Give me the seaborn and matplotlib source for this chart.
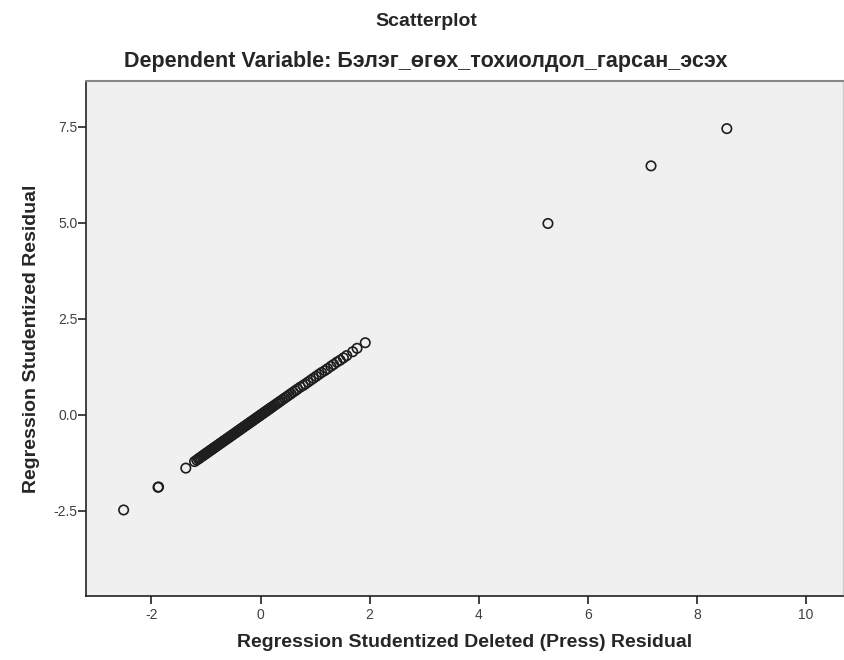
import matplotlib
matplotlib.use("Agg")
import matplotlib.pyplot as plt
import seaborn as sns
import pandas as pd

# Outlying points
outlier_x = [-2.51, -1.88, -1.87, -1.37, 5.27, 7.16, 8.55]
outlier_y = [-2.48, -1.89, -1.88, -1.39, 4.98, 6.48, 7.45]

# Main cluster (deleted residual, studentized residual)
cluster_x = [-1.21, -1.17, -1.14, -1.12, -1.10, -1.07, -1.05, -1.03, -1.01, -0.99,
             -0.97, -0.95, -0.93, -0.91, -0.89, -0.87, -0.85, -0.83, -0.81, -0.79,
             -0.77, -0.75, -0.73, -0.71, -0.69, -0.67, -0.65, -0.63, -0.61, -0.59,
             -0.57, -0.55, -0.53, -0.51, -0.49, -0.47, -0.45, -0.43, -0.41, -0.39,
             -0.37, -0.35, -0.33, -0.31, -0.29, -0.27, -0.25, -0.23, -0.21, -0.19,
             -0.17, -0.15, -0.13, -0.11, -0.09, -0.07, -0.05, -0.03, -0.01,
             0.01, 0.03, 0.05, 0.07, 0.09, 0.11, 0.13, 0.15, 0.17, 0.19, 0.21,
             0.24, 0.27, 0.30, 0.33, 0.36,
             0.40, 0.44, 0.48, 0.52, 0.56, 0.60, 0.64, 0.68,
             0.73, 0.78, 0.82, 0.87, 0.92, 0.97, 1.02, 1.07, 1.12, 1.18, 1.23, 1.29,
             1.34, 1.40, 1.46, 1.52, 1.58,
             1.69, 1.77, 1.92]
cluster_y = [-1.22, -1.18, -1.15, -1.13, -1.11, -1.08, -1.06, -1.04, -1.02, -1.00,
             -0.98, -0.96, -0.94, -0.92, -0.90, -0.88, -0.86, -0.84, -0.82, -0.80,
             -0.78, -0.76, -0.74, -0.72, -0.70, -0.68, -0.66, -0.64, -0.62, -0.60,
             -0.58, -0.56, -0.54, -0.52, -0.50, -0.48, -0.46, -0.44, -0.42, -0.40,
             -0.38, -0.36, -0.34, -0.32, -0.30, -0.28, -0.26, -0.24, -0.22, -0.20,
             -0.18, -0.16, -0.14, -0.12, -0.10, -0.08, -0.06, -0.04, -0.02,
             0.00, 0.02, 0.04, 0.06, 0.08, 0.10, 0.12, 0.14, 0.16, 0.18, 0.20,
             0.23, 0.26, 0.29, 0.32, 0.35,
             0.39, 0.43, 0.47, 0.51, 0.55, 0.59, 0.63, 0.67,
             0.72, 0.76, 0.80, 0.85, 0.90, 0.95, 1.00, 1.05, 1.10, 1.15, 1.20, 1.26,
             1.31, 1.37, 1.42, 1.48, 1.54,
             1.64, 1.73, 1.875]

x_ticks = [-2, 0, 2, 4, 6, 8, 10]
y_ticks = [-2.5, 0.0, 2.5, 5.0, 7.5]
y_tick_labels = ["-2.5", "0.0", "2.5", "5.0", "7.5"]

title = "Scatterplot"
subtitle = "Dependent Variable: Бэлэг_өгөх_тохиолдол_гарсан_эсэх"
xlabel = "Regression Studentized Deleted (Press) Residual"
ylabel = "Regression Studentized Residual"

df = pd.DataFrame({
    "x": outlier_x + cluster_x,
    "y": outlier_y + cluster_y,
})

sns.set_style("white")
plt.rcParams['font.family'] = ['Liberation Sans', 'DejaVu Sans']

fig = plt.figure(figsize=(8.44, 6.60), dpi=100)
ax = fig.add_axes([86 / 844, 1 - 596 / 660, (843 - 86) / 844, (596 - 81) / 660])
ax.set_facecolor("#f0f0f0")

sns.scatterplot(data=df, x="x", y="y", ax=ax, marker="o", s=46,
                facecolors="none", edgecolor="#1e1e1e", linewidth=1.2)

ax.set_xlim(-3.2, 10.68)
ax.set_ylim(-4.72, 8.69)
ax.set_xticks(x_ticks)
ax.set_xticklabels([str(t) for t in x_ticks])
ax.set_yticks(y_ticks)
ax.set_yticklabels(y_tick_labels)
ax.tick_params(axis="both", direction="out", length=5.5, width=1.3,
               color="#333333", labelsize=10, labelcolor="#404040",
               bottom=True, left=True)
ax.tick_params(axis="x", pad=3)
ax.tick_params(axis="y", pad=0.5)

for side in ["left", "bottom"]:
    ax.spines[side].set_color("#222222")
    ax.spines[side].set_linewidth(1.2)
ax.spines["top"].set_color("#888888")
ax.spines["top"].set_linewidth(1.5)
ax.spines["right"].set_color("#cccccc")
ax.spines["right"].set_linewidth(1.0)

ax.set_xlabel(xlabel, fontsize=14, fontweight="bold")
ax.xaxis.set_label_coords(0.5, (596 - 634) / 515)
ax.set_ylabel(ylabel, fontsize=14, fontweight="bold")
ax.yaxis.set_label_coords((40 - 86) / 757, 0.5)

fig.text(426 / 844, 1 - 22 / 660, title, ha="center", va="center",
         fontsize=14, fontweight="bold")
fig.text(426 / 844, 1 - 62 / 660, subtitle, ha="center", va="center",
         fontsize=15.5, fontweight="bold")

fig.savefig("out.png", dpi=100, facecolor="white")
